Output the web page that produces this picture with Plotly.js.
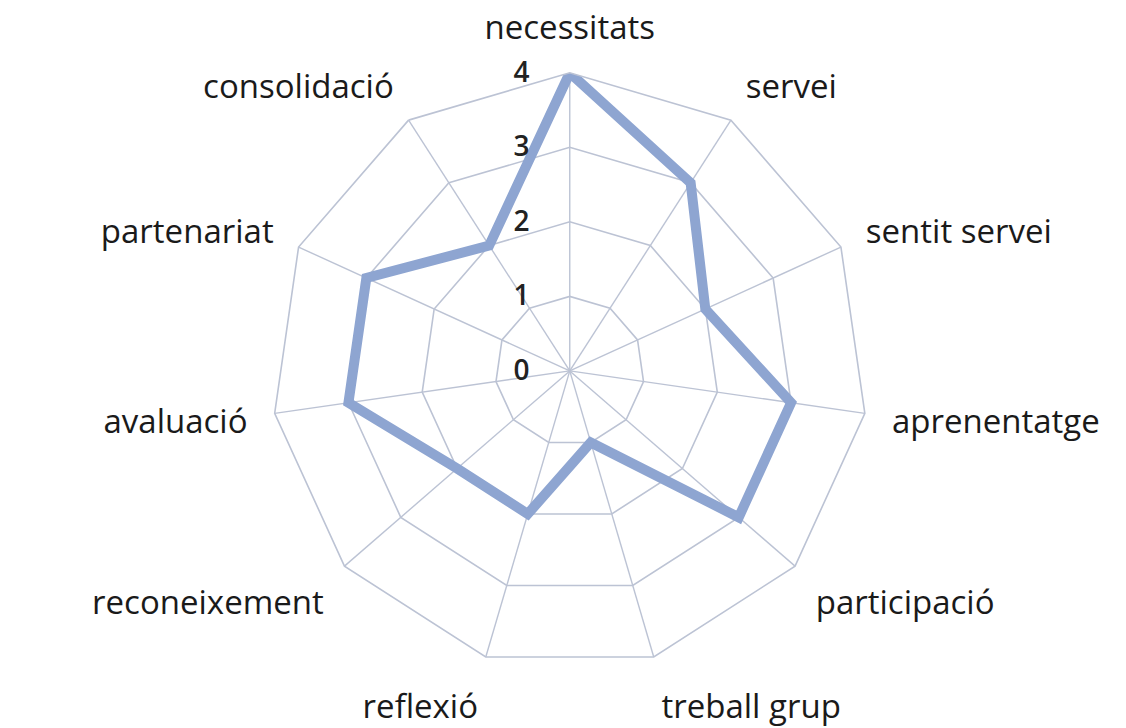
<!DOCTYPE html>
<html>
<head>
<meta charset="utf-8">
<script src="https://cdn.plot.ly/plotly-3.0.1.min.js"></script>
<style>
  html, body { margin: 0; padding: 0; background: #fff; }
  #chart { width: 1126px; height: 728px; }
</style>
</head>
<body>
<div id="chart"></div>
<script>
const categories = ["necessitats", "servei", "sentit servei", "aprenentatge", "participació",
    "treball grup", "reflexió", "reconeixement", "avaluació", "partenariat", "consolidació"];
const values = [4, 3, 2, 3, 3, 1, 2, 2, 3, 3, 2];
const radialTicks = [0, 1, 2, 3, 4];

// close the polygon
const r = values.concat([values[0]]);
const theta = categories.concat([categories[0]]);

const gridColor = "#bcc3d4";

Plotly.newPlot("chart", [{
    type: "scatterpolar",
    r: r,
    theta: theta,
    mode: "lines",
    line: { color: "#8ea5d1", width: 10 },
    hoverinfo: "skip"
}], {
    width: 1126,
    height: 728,
    margin: { l: 0, r: 0, t: 0, b: 0 },
    paper_bgcolor: "#fff",
    showlegend: false,
    font: { family: "Open Sans, sans-serif", color: "#1a1a1a" },
    polar: {
        domain: { x: [0.106, 0.906], y: [0.081, 0.900] },
        gridshape: "linear",
        bgcolor: "#fff",
        angularaxis: {
            direction: "clockwise",
            rotation: 90,
            showline: true,
            linecolor: gridColor,
            linewidth: 1.6,
            gridcolor: gridColor,
            gridwidth: 1.4,
            ticks: "outside",
            ticklen: 20,
            tickcolor: "rgba(0,0,0,0)",
            tickfont: { size: 33, color: "#1a1a1a" }
        },
        radialaxis: {
            range: [0, 4],
            tickvals: radialTicks,
            ticktext: radialTicks.map(String),
            angle: 90,
            tickangle: 90,
            side: "counterclockwise",
            showline: false,
            gridcolor: gridColor,
            gridwidth: 1.6,
            ticks: "outside",
            ticklen: 30,
            tickcolor: "rgba(0,0,0,0)",
            tickfont: { size: 28, color: "#222", family: "Open Sans, sans-serif", weight: 600 }
        }
    }
}, { displayModeBar: false, staticPlot: true });
</script>
</body>
</html>
